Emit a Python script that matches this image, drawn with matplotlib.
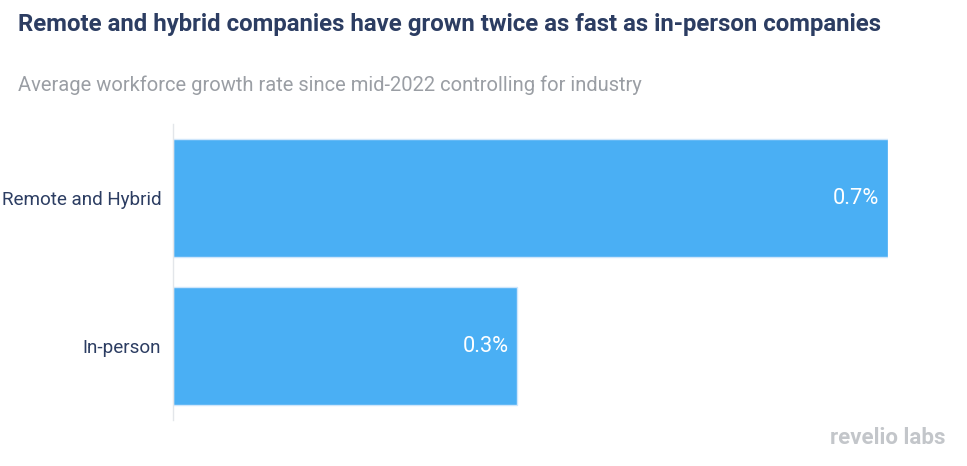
import matplotlib
matplotlib.use("Agg")
import matplotlib.pyplot as plt

# data
categories = ["Remote and Hybrid", "In-person"]
growth = [0.68, 0.327]  # % average workforce growth since mid-2022
labels = ["0.7%", "0.3%"]

title = "Remote and hybrid companies have grown twice as fast as in-person companies"
subtitle = "Average workforce growth rate since mid-2022 controlling for industry"

plt.rcParams["font.family"] = ["Roboto", "DejaVu Sans"]

fig = plt.figure(figsize=(9.67, 4.66), dpi=100)
ax = fig.add_axes([173 / 967, 46 / 466, 715 / 967, 296 / 466])

ypos = list(range(len(categories)))
ax.barh(ypos, growth, height=0.8, color="#4aaff4", edgecolor="#cfe6fb", linewidth=1)

for y, v, lab in zip(ypos, growth, labels):
    ax.text(v - 0.008, y, lab, ha="right", va="center", color="white", fontsize=15.7)

ax.set_xlim(0, growth[0])
ax.set_ylim(1.5, -0.5)
ax.set_yticks(ypos)
ax.set_yticklabels(categories, fontsize=13.6, color="#2c3d62")
ax.tick_params(axis="y", length=0, pad=8.5)
ax.set_xticks([])
for s in ["top", "right", "bottom"]:
    ax.spines[s].set_visible(False)
ax.spines["left"].set_color("#e3e6ea")
ax.spines["left"].set_linewidth(1)

fig.text(18 / 967, 1 - 24 / 466, title, fontsize=17.3, fontweight="bold",
         color="#2c3d62", ha="left", va="center")
fig.text(18 / 967, 1 - 85 / 466, subtitle, fontsize=14.5, color="#9a9ea4",
         ha="left", va="center")
fig.text(946 / 967, 1 - 438 / 466, "revelio labs", fontsize=16, fontweight="bold",
         color="#c3c6ca", ha="right", va="center")

fig.savefig("out.png", dpi=100)
